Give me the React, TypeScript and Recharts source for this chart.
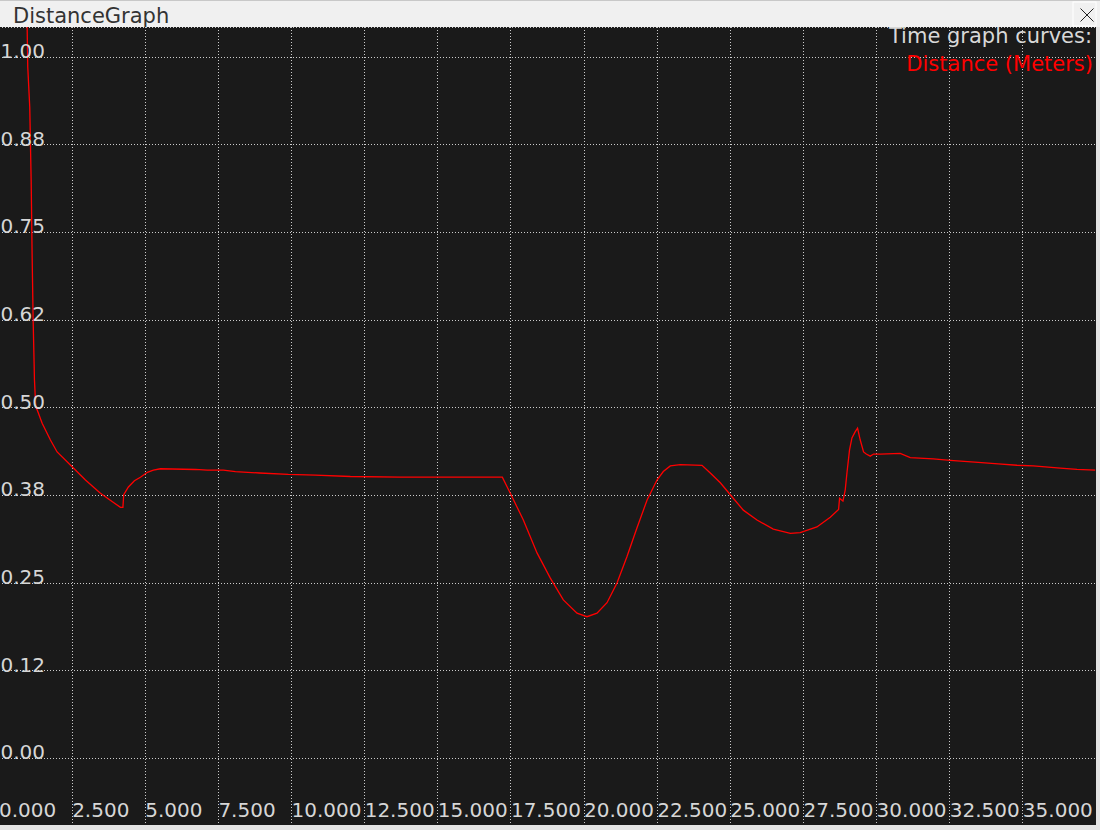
import { CartesianGrid, Line, LineChart, XAxis, YAxis } from "recharts";

// time (s) and distance (m)
const timeS = [
  0.92, 0.962, 0.983, 1.051, 1.099, 1.133, 1.167, 1.201, 1.212, 1.256, 1.304, 1.475, 1.758, 1.987,
  2.5, 2.955, 3.467, 3.877, 4.151, 4.236, 4.263, 4.424, 4.629, 4.834, 5.073, 5.278, 5.518, 6.714,
  7.124, 7.671, 8.081, 8.901, 9.892, 10.815, 12.011, 13.72, 17.206, 17.479, 17.924, 18.392, 18.847,
  19.291, 19.759, 20.1, 20.442, 20.784, 21.126, 21.468, 21.81, 22.151, 22.493, 22.708, 22.948, 23.29,
  24.031, 24.315, 24.657, 24.999, 25.443, 25.911, 26.467, 27.05, 27.39, 27.96, 28.416, 28.7, 28.734,
  28.85, 28.928, 28.986, 29.075, 29.157, 29.27, 29.349, 29.441, 29.554, 29.646, 29.783, 29.896,
  30.125, 30.808, 31.15, 31.936, 32.517, 33.474, 34.158, 34.797, 35.354, 36.277, 36.848, 37.473,
];
const distanceM = [
  1.08, 1.043, 0.986, 0.929, 0.825, 0.716, 0.626, 0.562, 0.54, 0.501, 0.497, 0.478, 0.454, 0.437,
  0.416, 0.397, 0.378, 0.366, 0.358, 0.358, 0.376, 0.387, 0.396, 0.401, 0.408, 0.411, 0.413, 0.412,
  0.411, 0.411, 0.409, 0.407, 0.405, 0.404, 0.402, 0.401, 0.401, 0.378, 0.34, 0.293, 0.257,
  0.226, 0.207, 0.202, 0.207, 0.222, 0.25, 0.288, 0.329, 0.368, 0.397, 0.409, 0.417, 0.419,
  0.418, 0.407, 0.393, 0.376, 0.354, 0.34, 0.327, 0.321, 0.322, 0.33, 0.344, 0.355, 0.371,
  0.367, 0.383, 0.407, 0.44, 0.457, 0.466, 0.471, 0.454, 0.437, 0.434, 0.431, 0.434,
  0.434, 0.435, 0.429, 0.427, 0.425, 0.422, 0.42, 0.418, 0.417, 0.414, 0.412, 0.411,
];

const xTicks = [0, 2.5, 5, 7.5, 10, 12.5, 15, 17.5, 20, 22.5, 25, 27.5, 30, 32.5, 35];
const xTickLabels = [
  "0.000", "2.500", "5.000", "7.500", "10.000", "12.500", "15.000", "17.500",
  "20.000", "22.500", "25.000", "27.500", "30.000", "32.500", "35.000",
];
const yTicks = [0, 0.125, 0.25, 0.375, 0.5, 0.625, 0.75, 0.875, 1];
const yTickLabels = ["0.00", "0.12", "0.25", "0.38", "0.50", "0.62", "0.75", "0.88", "1.00"];

const data = timeS.map((t, i) => ({ t, d: distanceM[i] }));

const font = "'DejaVu Sans', sans-serif";
const tickColor = "#d6d6d6";

function XTick({ x, payload }: any) {
  return (
    <text x={x} y={790} fill={tickColor} fontSize={20} fontFamily={font} textAnchor="start">
      {xTickLabels[xTicks.indexOf(payload.value)]}
    </text>
  );
}

function YTick({ y, payload }: any) {
  return (
    <text x={1.5} y={y + 1} fill={tickColor} fontSize={20} fontFamily={font} textAnchor="start">
      {yTickLabels[yTicks.indexOf(payload.value)]}
    </text>
  );
}

export default function App() {
  return (
    <div style={{ position: "fixed", left: 0, top: 0, width: 1100, height: 830, overflow: "hidden", background: "#e4e4e4" }}>
      <style>{`.recharts-cartesian-grid line{shape-rendering:crispEdges}`}</style>
      {/* title bar */}
      <div style={{ position: "absolute", left: 0, top: 0, width: 1100, height: 27, background: "#f0f0f0", borderTop: "1px solid #c8c8c8", boxSizing: "border-box" }} />
      {/* plot */}
      <div style={{ position: "absolute", left: 0, top: 27, width: 1096, height: 798, overflow: "hidden", background: "#1a1a1a" }}>
        <div style={{ position: "absolute", left: -1, top: 0 }}>
          <LineChart width={1097} height={798} data={data} margin={{ top: 0, right: 0, bottom: 0, left: 0 }}>
            <CartesianGrid stroke="#cccccc" strokeDasharray="1 2" />
            <XAxis
              type="number"
              dataKey="t"
              domain={[0, 37.5]}
              ticks={xTicks}
              interval={0}
              mirror
              axisLine={false}
              tickLine={false}
              tick={XTick}
              allowDataOverflow
            />
            <YAxis
              type="number"
              domain={[-0.095, 1.043]}
              ticks={yTicks}
              interval={0}
              mirror
              axisLine={false}
              tickLine={false}
              tick={YTick}
              allowDataOverflow
            />
            <Line type="linear" dataKey="d" stroke="#ff0000" strokeWidth={1.3} dot={false} isAnimationActive={false} />
          </LineChart>
        </div>
      </div>
      <svg width={1100} height={830} style={{ position: "absolute", left: 0, top: 0, pointerEvents: "none" }}>
        <text x={13} y={23} fontSize={21} fontFamily={font} fill="#333333">DistanceGraph</text>
        <rect x={1073} y={2} width={23} height={24} fill="#f0f0f0" stroke="#ffffff" />
        <line x1={1080.5} y1={8.5} x2={1093.5} y2={21.5} stroke="#222" strokeWidth={1} />
        <line x1={1093.5} y1={8.5} x2={1080.5} y2={21.5} stroke="#222" strokeWidth={1} />
        <text x={1092} y={43} fontSize={21} fontFamily={font} fill="#d8d8d8" textAnchor="end">Time graph curves:</text>
        <text x={1093} y={71} fontSize={21} fontFamily={font} fill="#ff0000" textAnchor="end">Distance (Meters)</text>
      </svg>
    </div>
  );
}
